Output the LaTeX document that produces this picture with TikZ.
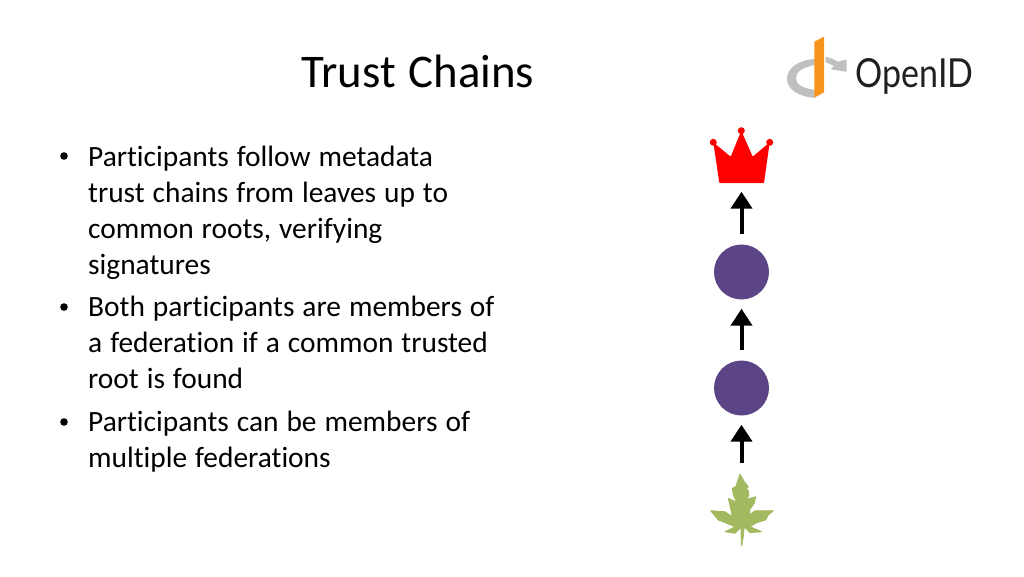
\documentclass[tikz,border=0pt]{standalone}
\usepackage{fontspec}
\setmainfont{Carlito}[Ligatures=CommonOff,WordSpace=1.2]
\newfontfamily\logofont{Lato}
\usetikzlibrary{arrows.meta}
\definecolor{fedviolet}{HTML}{5B4586}
\definecolor{rootred}{HTML}{FF0000}
\definecolor{leafgreen}{HTML}{A3B95F}
\definecolor{logoorange}{HTML}{F7941E}
\definecolor{logogrey}{HTML}{BFC1C0}
\definecolor{logotext}{HTML}{231F20}
\tikzset{
	bodytext/.style={anchor=north west,inner sep=0pt,text width=#1,align=flush left,font=\fontsize{29.4}{36}\selectfont},
	fed/.style={circle,fill=fedviolet,inner sep=0pt,minimum size=55pt},
	trust/.style={line width=4pt,-{Triangle[length=17pt,width=21pt]},shorten >=9pt,shorten <=10pt},
}
\begin{document}
\begin{tikzpicture}[x=1pt,y=-1pt]
	\useasboundingbox (0,0) rectangle (1024,576);
	\node (title) at (418,71.5) {\fontsize{46.8}{54}\selectfont Trust Chains};
	% bullets
	\node[bodytext=430pt] (itema) at (88,146) {Participants follow metadata\\trust chains from leaves up to\\common roots, verifying\\signatures};
	\node[bodytext=430pt] (itemb) at (88,296) {Both participants are members of\\a federation if a common trusted\\root is found};
	\node[bodytext=430pt] (itemc) at (88,411) {Participants can be members of\\multiple federations};
	\foreach \y/\n in {156/a,307/b,422/c}
		\fill (64,\y) circle (3.8pt);
	% crown
	\fill[rootred,rounded corners=0.8pt] (719.3,183) -- (713.3,142.3) -- (730.7,156.7) -- (741.3,130.7) -- (752.7,156.7) -- (769.7,142.3) -- (764,183) -- cycle;
	\fill[rootred] (713.3,142.3) circle (3.5pt) (741.3,130.7) circle (3.5pt) (769.7,142.3) circle (3.5pt);
	\node[inner sep=0pt,minimum width=50pt,minimum height=1pt] (root) at (741.5,182) {};
	\node[fed] (feda) at (741.5,272) {};
	\node[fed] (fedb) at (741.5,388) {};
	% leaf
	\filldraw[leafgreen,line width=0.8pt,line join=round] (740,474) -- (744.3,481.7) -- (748.3,486.7) -- (746.5,489) -- (748.3,490.7) -- (749,495) -- (746.7,499.3) -- (755.7,496.7) -- (754.3,503.3) -- (750,509.3) -- (749.3,515) -- (755,510.7) -- (773.3,510.7) -- (768.3,515) -- (765.7,520) -- (756.7,522.7) -- (750,526.7) -- (761.7,531.7) -- (750,532.7) -- (744.3,526.7) -- (743.3,536.7) -- (741.7,546) -- (741,536.7) -- (741,527.3) -- (735,533.3) -- (725,531.7) -- (735,526.7) -- (726.7,523.3) -- (718.3,520) -- (710.7,510.7) -- (725,511.7) -- (732.3,516.7) -- (731,510) -- (728.3,498.3) -- (736.7,502.3) -- (733.3,495) -- (732.3,488.3) -- (735.7,486.7) -- cycle;
	\node[inner sep=0pt,minimum width=20pt,minimum height=1pt] (leaf) at (741.5,474) {};
	\draw[trust] (feda) -- (root);
	\draw[trust] (fedb) -- (feda);
	\draw[trust] (leaf) -- (fedb);
	% logo
	\fill[logogrey] (815,59) .. controls (798,60) and (787,68) .. (787,79) .. controls (787,90) and (800,97) .. (815,98) -- (815,90) .. controls (803,88) and (796,85) .. (796,78) .. controls (796,71) and (804,67) .. (815,65) -- cycle;
	\fill[logogrey] (825.7,56.7) .. controls (831,58) and (835,60) .. (838,61.7) -- (846.7,59.3) -- (846.7,71.7) -- (830.7,69.3) -- (834,66) .. controls (831,64.5) and (828,63) .. (825.7,62.3) -- cycle;
	\fill[logoorange] (814.3,41.7) -- (824,36.7) -- (824,92.3) -- (814.3,97.7) -- cycle;
	\node[inner sep=0pt,text=logotext,transform shape,xscale=.85] (logo) at (914.5,76) {\logofont\fontsize{40}{44}\selectfont OpenID};
\end{tikzpicture}
\end{document}
